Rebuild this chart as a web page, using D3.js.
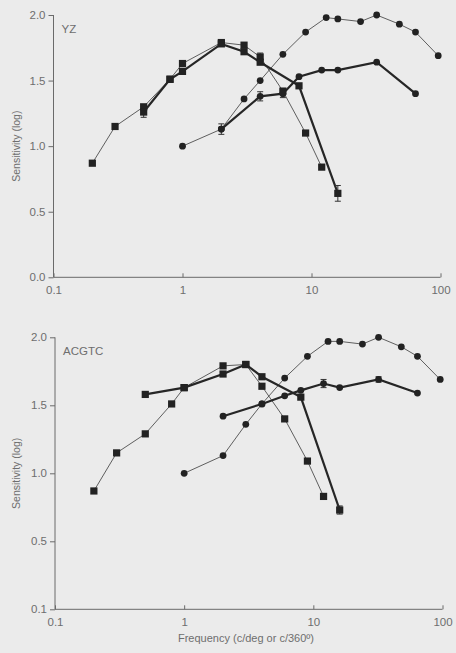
<!DOCTYPE html>
<html>
<head>
<meta charset="utf-8">
<title>Sensitivity vs frequency</title>
<script src="https://cdn.jsdelivr.net/npm/d3@7/dist/d3.min.js"></script>
<style>
    html, body { margin: 0; padding: 0; background: #ebebeb; }
    svg { display: block; }
    text { font-family: "Liberation Sans", Arial, sans-serif; fill: #6e6e6e; }
    .axis path, .axis line { stroke: #6a6a6a; stroke-width: 1; fill: none; }
    .thin { fill: none; stroke: #3a3a3a; stroke-width: 0.8; }
    .thick { fill: none; stroke: #262626; stroke-width: 2.2; }
    .err { stroke: #333; stroke-width: 1; }
    .mark { fill: #222; }
</style>
</head>
<body>
<script>
// tick values + labels
var xTicks = [0.1, 1, 10, 100];
var xTickLabels = ["0.1", "1", "10", "100"];
var yTicks = [0, 0.5, 1, 1.5, 2];
var yTickLabelsTop = ["0.0", "0.5", "1.0", "1.5", "2.0"];
var yTickLabelsBottom = ["0.1", "0.5", "1.0", "1.5", "2.0"];

// YZ
var yzSqThinF = [0.2, 0.3, 0.5, 0.8, 1, 2, 3, 4, 6, 9, 12];
var yzSqThinV = [0.87, 1.15, 1.30, 1.51, 1.63, 1.79, 1.77, 1.68, 1.42, 1.10, 0.84];
var yzSqThinErr = [0, 0, 0, 0, 0, 0, 0, 0.03, 0, 0, 0];
var yzSqThickF = [0.5, 0.8, 1, 2, 3, 4, 8, 16];
var yzSqThickV = [1.26, 1.51, 1.57, 1.78, 1.72, 1.64, 1.46, 0.64];
var yzSqThickErr = [0.04, 0, 0, 0, 0, 0, 0, 0.06];
var yzCiThinF = [1, 2, 3, 4, 6, 9, 13, 16, 24, 32, 48, 64, 96];
var yzCiThinV = [1.00, 1.13, 1.36, 1.50, 1.70, 1.87, 1.98, 1.97, 1.95, 2.00, 1.93, 1.87, 1.69];
var yzCiThickF = [2, 4, 6, 8, 12, 16, 32, 64];
var yzCiThickV = [1.13, 1.38, 1.40, 1.53, 1.58, 1.58, 1.64, 1.40];
var yzCiThickErr = [0.04, 0.035, 0.03, 0, 0, 0, 0, 0];

// ACGTC
var acSqThinF = [0.2, 0.3, 0.5, 0.8, 1, 2, 3, 4, 6, 9, 12];
var acSqThinV = [0.87, 1.15, 1.29, 1.51, 1.63, 1.79, 1.80, 1.64, 1.40, 1.09, 0.83];
var acSqThickF = [0.5, 1, 2, 3, 4, 8, 16];
var acSqThickV = [1.58, 1.63, 1.73, 1.80, 1.71, 1.56, 0.73];
var acSqThickErr = [0, 0, 0, 0, 0, 0, 0.03];
var acCiThinF = [1, 2, 3, 4, 6, 9, 13, 16, 24, 32, 48, 64, 96];
var acCiThinV = [1.00, 1.13, 1.36, 1.51, 1.70, 1.86, 1.97, 1.97, 1.95, 2.00, 1.93, 1.86, 1.69];
var acCiThickF = [2, 4, 6, 8, 12, 16, 32, 64];
var acCiThickV = [1.42, 1.51, 1.57, 1.61, 1.66, 1.63, 1.69, 1.59];
var acCiThickErr = [0, 0, 0, 0, 0.03, 0, 0.02, 0];

var width = 456, height = 653;

var svg = d3.select("body").append("svg")
    .attr("width", width)
    .attr("height", height);

function zip(f, v, e) {
    return f.map(function(d, i) { return {f: d, v: v[i], e: e ? e[i] : 0}; });
}

function panel(opts) {
    var x = d3.scaleLog().domain([0.1, 100]).range(opts.xr);
    var y = d3.scaleLinear().domain([0, 2]).range(opts.yr);
    var g = svg.append("g");

    var xAxis = d3.axisBottom(x).tickValues(xTicks)
        .tickSize(-4).tickPadding(9)
        .tickFormat(function(d, i) { return xTickLabels[i]; });
    var gx = g.append("g").attr("class", "axis")
        .attr("transform", "translate(0," + opts.yr[0] + ")")
        .call(xAxis);
    gx.select(".domain").attr("d", "M" + opts.xr[0] + ",0H" + opts.xr[1]);
    gx.selectAll("text").style("font-size", "11.5px").attr("fill", "#707070");

    var yAxis = d3.axisLeft(y).tickValues(yTicks)
        .tickSize(5).tickPadding(3)
        .tickFormat(function(d, i) { return opts.yLabels[i]; });
    var gy = g.append("g").attr("class", "axis")
        .attr("transform", "translate(" + opts.xr[0] + ",0)")
        .call(yAxis);
    gy.select(".domain").attr("d", "M0," + opts.yr[1] + "V" + opts.yr[0]);
    gy.selectAll("text").style("font-size", "11.5px").attr("fill", "#707070");

    g.append("text")
        .attr("transform", "translate(20," + (opts.yr[0] + opts.yr[1]) / 2 + ") rotate(-90)")
        .attr("text-anchor", "middle")
        .style("font-size", "10.5px")
        .text("Sensitivity (log)");

    g.append("text")
        .attr("x", opts.xr[0] + 8)
        .attr("y", opts.yr[1] + 18)
        .style("font-size", "11.5px")
        .text(opts.name);

    var line = d3.line()
        .x(function(d) { return x(d.f); })
        .y(function(d) { return y(d.v); });

    opts.series.forEach(function(s) {
        g.append("path").datum(s.data)
            .attr("class", s.thick ? "thick" : "thin")
            .attr("d", line);
    });

    opts.series.forEach(function(s) {
        var eb = g.append("g").selectAll("g")
            .data(s.data.filter(function(d) { return d.e > 0; }))
            .enter().append("g").attr("class", "err");
        eb.append("line")
            .attr("x1", function(d) { return x(d.f); })
            .attr("x2", function(d) { return x(d.f); })
            .attr("y1", function(d) { return y(d.v - d.e); })
            .attr("y2", function(d) { return y(d.v + d.e); });
        [-1, 1].forEach(function(k) {
            eb.append("line")
                .attr("x1", function(d) { return x(d.f) - 3; })
                .attr("x2", function(d) { return x(d.f) + 3; })
                .attr("y1", function(d) { return y(d.v + k * d.e); })
                .attr("y2", function(d) { return y(d.v + k * d.e); });
        });
    });

    opts.series.forEach(function(s) {
        var sel = g.append("g").selectAll(".mark").data(s.data).enter();
        if (s.shape == "sq") {
            sel.append("rect").attr("class", "mark")
                .attr("x", function(d) { return x(d.f) - 3.6; })
                .attr("y", function(d) { return y(d.v) - 3.6; })
                .attr("width", 7.2)
                .attr("height", 7.2);
        } else {
            sel.append("circle").attr("class", "mark")
                .attr("cx", function(d) { return x(d.f); })
                .attr("cy", function(d) { return y(d.v); })
                .attr("r", 3.4);
        }
    });
}

panel({
    name: "YZ",
    xr: [53.5, 440.5],
    yr: [277.3, 15],
    yLabels: yTickLabelsTop,
    series: [
        {shape: "sq", thick: false, data: zip(yzSqThinF, yzSqThinV, yzSqThinErr)},
        {shape: "ci", thick: false, data: zip(yzCiThinF, yzCiThinV)},
        {shape: "sq", thick: true, data: zip(yzSqThickF, yzSqThickV, yzSqThickErr)},
        {shape: "ci", thick: true, data: zip(yzCiThickF, yzCiThickV, yzCiThickErr)}
    ]
});

panel({
    name: "ACGTC",
    xr: [55, 442.5],
    yr: [609.3, 337.3],
    yLabels: yTickLabelsBottom,
    series: [
        {shape: "sq", thick: false, data: zip(acSqThinF, acSqThinV)},
        {shape: "ci", thick: false, data: zip(acCiThinF, acCiThinV)},
        {shape: "sq", thick: true, data: zip(acSqThickF, acSqThickV, acSqThickErr)},
        {shape: "ci", thick: true, data: zip(acCiThickF, acCiThickV, acCiThickErr)}
    ]
});

svg.append("text")
    .attr("x", 246)
    .attr("y", 642)
    .attr("text-anchor", "middle")
    .style("font-size", "11px")
    .text("Frequency (c/deg or c/360º)");
</script>
</body>
</html>
